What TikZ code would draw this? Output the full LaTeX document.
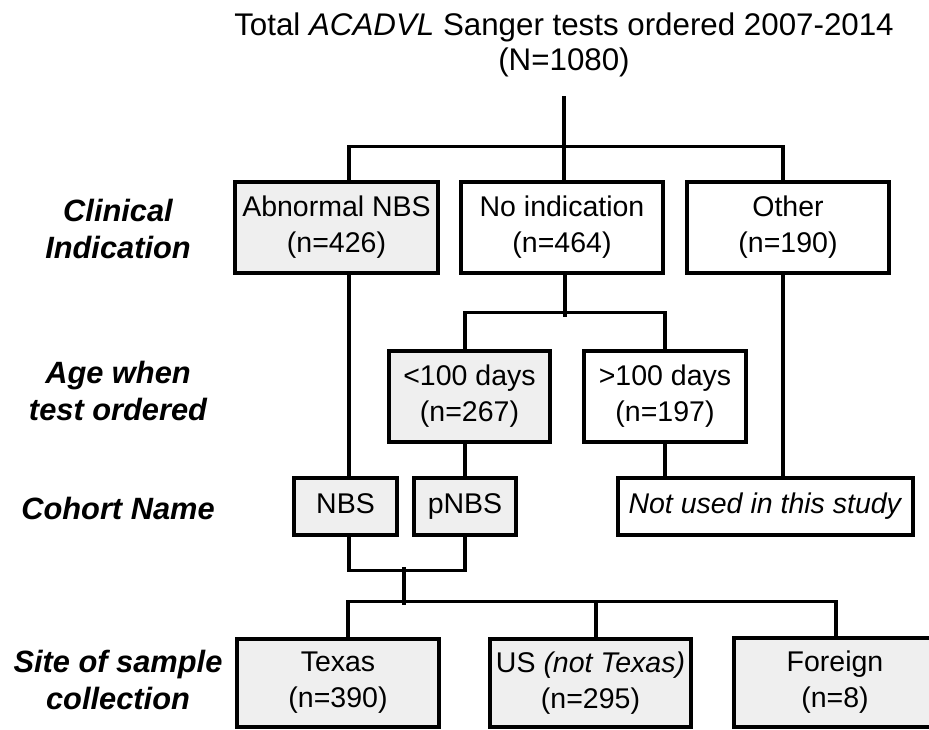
\documentclass[tikz,border=0pt]{standalone}
\usepackage{fontspec}
\setmainfont{Liberation Sans}
\definecolor{boxgray}{HTML}{EFEFEF}
\begin{document}
\begin{tikzpicture}[x=1pt,y=-1pt,
  every node/.style={font=\fontsize{28.5}{36}\selectfont},
  box/.style={draw=black, line width=3.2pt, rectangle, inner sep=0pt, align=center},
  shaded/.style={box, fill=boxgray},
  plain/.style={box, fill=white},
  rowlabel/.style={align=center, font=\fontsize{30.8}{36.5}\selectfont\bfseries\itshape},
  conn/.style={line width=3.2pt, line cap=rect}
]
\useasboundingbox (0,0) rectangle (929,729);

% title
\node[align=center, font=\fontsize{31.3}{35}\selectfont] (title) at (564,44.5)
  {Total \textit{ACADVL} Sanger tests ordered 2007-2014\\(N=1080)};

% row labels
\node[rowlabel] (lab1) at (118,229) {Clinical\\Indication};
\node[rowlabel] (lab2) at (118,391) {Age when\\test ordered};
\node[rowlabel] (lab3) at (118,508) {Cohort Name};
\node[rowlabel] (lab4) at (118,680) {Site of sample\\collection};

% row 1
\node[shaded, minimum width=203, minimum height=91] (abn) at (336.5,227.5) {Abnormal NBS\\(n=426)};
\node[plain, minimum width=202, minimum height=91] (noi) at (562,227.5) {No indication\\(n=464)};
\node[plain, minimum width=202, minimum height=91] (oth) at (788,227.5) {Other\\(n=190)};

% row 2
\node[shaded, minimum width=161, minimum height=91] (lt) at (469.5,396.5) {<100 days\\(n=267)};
\node[plain, minimum width=162, minimum height=91] (gt) at (665,396.5) {>100 days\\(n=197)};

% row 3
\node[shaded, minimum width=103, minimum height=57] (nbs) at (345.5,506.5) {\strut NBS};
\node[shaded, minimum width=102, minimum height=57] (pnbs) at (465,506.5) {\strut pNBS};
\node[plain, minimum width=295, minimum height=57] (notused) at (765.5,506.5) {\strut\textit{Not used in this study}};

% row 4
\node[shaded, minimum width=202, minimum height=88] (texas) at (338,683) {Texas\\(n=390)};
\node[shaded, minimum width=201, minimum height=88] (us) at (590.5,683) {US \textit{(not Texas)}\\(n=295)};
\node[shaded, minimum width=202, minimum height=89] (foreign) at (835,682.5) {Foreign\\(n=8)};

% connectors
\coordinate (root) at (564,98);
\draw[conn] (root) -- (noi.north -| root);
\draw[conn] (abn.north -| 349,0) -- ++(0,-34) -| (oth.north -| 783,0);

\draw[conn] (noi.south -| 565,0) -- ++(0,41);
\draw[conn] (lt.north -| 465,0) -- ++(0,-37) -| (gt.north -| 665,0);

\draw[conn] (abn.south -| 349,0) -- (nbs.north -| 349,0);
\draw[conn] (lt.south -| 465,0) -- (pnbs.north -| 465,0);
\draw[conn] (gt.south -| 665,0) -- (notused.north -| 665,0);
\draw[conn] (oth.south -| 783,0) -- (notused.north -| 783,0);

\draw[conn] (nbs.south -| 349,0) -- ++(0,34) -| (pnbs.south -| 465,0);
\coordinate (merge) at (404,569);
\draw[conn] (merge) -- ++(0,34);
\draw[conn] (texas.north -| 348,0) -- ++(0,-36) -| (foreign.north -| 836,0);
\draw[conn] (us.north -| 596,0) -- ++(0,-36);
\end{tikzpicture}
\end{document}
